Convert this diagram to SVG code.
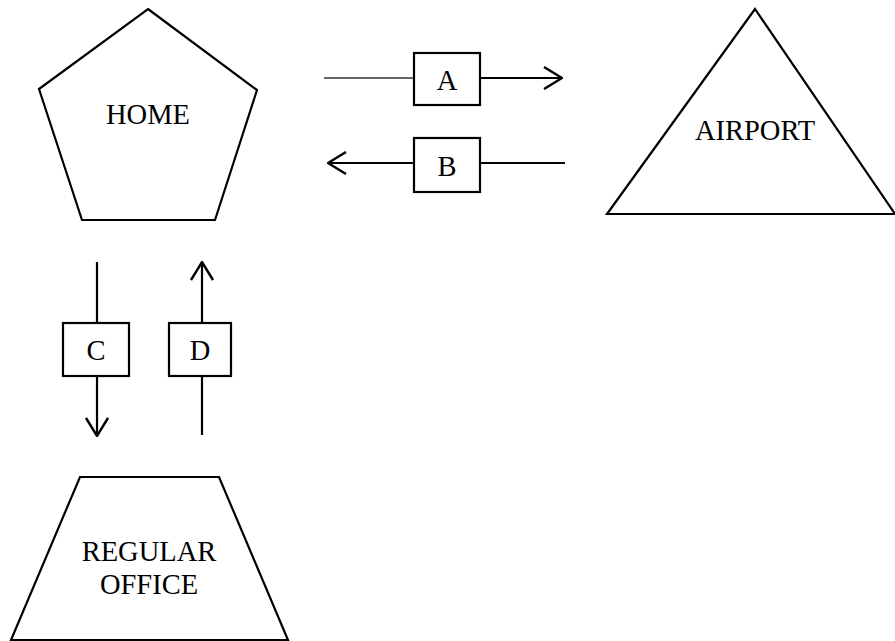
<svg xmlns="http://www.w3.org/2000/svg" width="895" height="641" viewBox="0 0 895 641">
<style>
.shape{fill:#fff;stroke:#000;stroke-width:2.2}
.lbl{font-family:"Liberation Serif","Times New Roman",serif;font-size:28.5px;fill:#000;text-anchor:middle}
.edge{stroke:#000;stroke-width:2.2;fill:none}
.thin{stroke:#333;stroke-width:1.3;fill:none}
</style>
<defs>
<marker id="arr" viewBox="0 0 20 24" refX="19" refY="12" markerWidth="20" markerHeight="24" markerUnits="userSpaceOnUse" orient="auto">
<path d="M1,1 L19,12 L1,23" fill="none" stroke="#000" stroke-width="2.4"/>
</marker>
</defs>
<rect width="895" height="641" fill="#fff"/>
<g id="home">
<polygon class="shape" points="148,9 257,90 215,220 82,220 39,89"/>
<text class="lbl" x="148" y="124">HOME</text>
</g>
<g id="airport">
<polygon class="shape" points="755,9 895,214 607,214"/>
<text class="lbl" x="755" y="140">AIRPORT</text>
</g>
<g id="office">
<polygon class="shape" points="80,477 219,477 288,640 11,640"/>
<text class="lbl" x="149" y="561">REGULAR</text>
<text class="lbl" x="149" y="594">OFFICE</text>
</g>
<g id="connectors">
<line class="thin" x1="324" y1="78" x2="414" y2="78"/>
<line class="edge" x1="480" y1="78" x2="562" y2="78" marker-end="url(#arr)"/>
<line class="edge" x1="565" y1="163" x2="480" y2="163"/>
<line class="edge" x1="414" y1="163" x2="328" y2="163" marker-end="url(#arr)"/>
<line class="edge" x1="97" y1="262" x2="97" y2="323"/>
<line class="edge" x1="97" y1="376" x2="97" y2="436" marker-end="url(#arr)"/>
<line class="edge" x1="202" y1="435" x2="202" y2="376"/>
<line class="edge" x1="202" y1="323" x2="202" y2="262" marker-end="url(#arr)"/>
</g>
<g id="A">
<rect class="shape" x="414" y="53" width="66" height="52"/>
<text class="lbl" x="447" y="90">A</text>
</g>
<g id="B">
<rect class="shape" x="414" y="138" width="66" height="54"/>
<text class="lbl" x="447" y="176">B</text>
</g>
<g id="C">
<rect class="shape" x="63" y="323" width="66" height="53"/>
<text class="lbl" x="96" y="360">C</text>
</g>
<g id="D">
<rect class="shape" x="169" y="323" width="62" height="53"/>
<text class="lbl" x="200" y="360">D</text>
</g>
</svg>
